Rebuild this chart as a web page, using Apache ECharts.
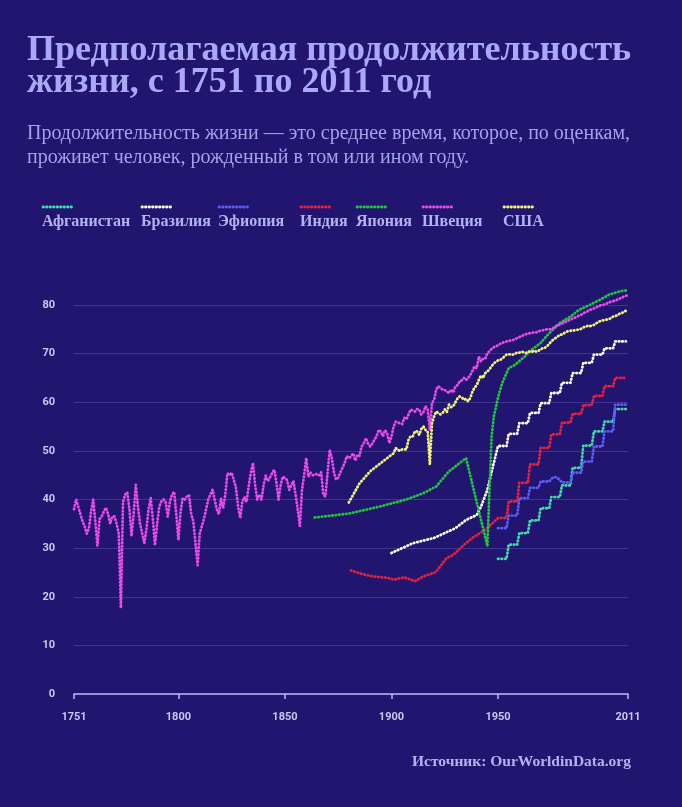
<!DOCTYPE html>
<html><head><meta charset="utf-8">
<script src="https://cdn.jsdelivr.net/npm/echarts@6/dist/echarts.min.js"></script>
<style>html,body{margin:0;padding:0;background:#211570;}#c{width:682px;height:807px;}</style>
</head><body><div id="c"></div>
<script>
// ---------- DATA ----------
const countries = ['Афганистан','Бразилия','Эфиопия','Индия','Япония','Швеция','США'];
const colors = ['#3fdca8','#ffffff','#5d5cf2','#e3223f','#1fc43f','#e64ce8','#f2f27a'];

const xTickLabels = [1751, 1800, 1850, 1900, 1950, 2011];

// Sweden, annual from 1751
const swedenStart = 1751;
const swedenValues = [
 38.0,40.0,38.5,37.0,35.5,34.5,33.0,34.0,37.5,40.0,
 35.5,30.5,36.0,36.5,37.5,38.3,37.0,35.0,36.5,36.5,
 35.0,33.0,17.7,39.5,41.0,41.5,38.0,32.5,37.0,43.0,
 38.5,35.0,33.0,31.0,34.0,38.0,40.3,36.0,30.6,35.0,
 38.5,39.6,40.0,39.5,36.5,39.5,41.0,41.6,37.0,31.7,
 37.5,40.3,40.0,40.6,40.9,37.0,35.5,31.0,26.5,33.0,
 34.5,36.0,38.0,40.0,41.0,42.0,40.0,38.0,37.0,40.2,
 38.2,41.0,45.4,45.0,45.5,44.0,42.5,38.5,36.2,39.5,
 40.5,39.5,42.8,45.5,47.5,43.0,40.0,41.0,40.0,43.0,
 44.9,43.8,44.5,45.5,46.1,43.5,40.0,43.0,44.7,44.4,
 44.0,42.0,43.0,43.8,41.0,38.0,34.5,42.0,45.0,48.5,
 44.7,45.5,45.0,45.0,45.3,45.0,45.6,41.0,40.6,45.5,
 50.2,48.5,45.6,44.1,44.5,45.6,46.5,47.5,48.9,48.5,
 48.8,49.5,48.0,49.2,49.0,50.9,51.5,52.6,51.5,50.9,
 51.5,52.3,53.0,54.3,54.0,53.0,54.3,53.5,51.6,53.0,
 55.0,56.0,55.8,55.7,55.5,56.8,56.5,57.5,58.5,58.3,
 58.1,58.6,58.5,57.5,58.0,59.2,58.5,54.3,59.8,60.5,
 62.6,63.3,62.9,62.6,62.5,62.2,61.9,62.6,62.0,63.3,
 63.5,64.3,64.5,65.0,64.6,65.0,65.6,66.5,67.4,67.0,
 69.4,68.4,69.0,69.0,70.1,70.5,71.0,71.3,71.5,71.7,
 72.0,72.2,72.4,72.5,72.6,72.7,72.8,73.0,73.2,73.4,
 73.6,73.8,74.0,74.1,74.2,74.3,74.3,74.4,74.6,74.7,
 74.8,74.9,75.0,75.0,75.0,75.3,75.6,75.8,76.0,76.2,
 76.4,76.6,76.8,77.0,77.2,77.4,77.6,77.8,78.0,78.3,
 78.5,78.7,79.0,79.1,79.3,79.5,79.7,79.9,80.0,80.1,
 80.3,80.5,80.7,80.8,80.9,81.1,81.3,81.5,81.7,81.9,
 82.0
];

// USA
const usaEarlyYears = [1880, 1885, 1890, 1895, 1900];
const usaEarlyValues = [39.4, 43.3, 45.8, 47.5, 49.2];
const usaAnnualStart = 1901;
const usaAnnualValues = [
 49.5,50.6,50.2,50.0,50.3,50.3,50.3,52.3,53.0,53.0,
 54.0,54.0,53.3,54.5,55.0,54.3,54.0,47.2,55.7,57.1,
 58.1,57.8,57.5,57.8,58.5,58.0,59.5,59.0,59.2,60.0,
 60.8,61.2,61.0,60.5,60.7,60.2,60.9,62.2,63.0,63.5,
 64.6,65.5,65.0,66.0,66.3,66.8,67.4,68.0,68.3,68.6,
 68.7,69.0,69.4,69.8,69.8,69.9,69.8,70.0,70.2,70.2,
 70.4,70.3,70.1,70.4,70.4,70.4,70.6,70.4,70.6,70.9,
 71.1,71.2,71.5,72.0,72.5,72.9,73.2,73.5,73.9,73.9,
 74.2,74.5,74.6,74.7,74.7,74.8,74.9,74.9,75.1,75.4,
 75.5,75.7,75.6,75.8,75.9,76.2,76.5,76.7,76.8,76.9,
 77.0,77.1,77.3,77.6,77.7,77.9,78.2,78.3,78.6,78.8,
 78.9
];

// Japan
const japanYears = [1864,1880,1895,1907,1915,1921,1927,1935,1945,1946,1947,1948,1949,1950,1951,1952,1955,1958,1962,1965,1970,1974,1979,1984,1988,1993,1998,2002,2007,2010,2011];
const japanValues = [36.3,37.1,38.6,40.0,41.3,42.7,45.8,48.5,30.4,42.0,53.0,57.0,59.0,61.0,62.5,64.0,67.0,67.7,69.2,70.5,72.2,74.2,76.3,77.6,79.0,80.0,81.1,82.1,82.8,83.0,82.7];

// India
const indiaEarlyYears = [1881,1886,1891,1898,1901,1906,1911,1915,1920,1921,1924,1926,1929,1934,1938,1945,1949];
const indiaEarlyValues = [25.4,24.7,24.2,23.9,23.5,24.0,23.2,24.2,24.9,25.2,26.9,28.0,28.6,30.7,32.1,34.1,35.8];

// Brazil
const brazilEarlyYears = [1900,1910,1920,1930,1935,1940,1942,1945,1948];
const brazilEarlyValues = [29.0,31.0,32.1,34.1,35.8,36.8,38.5,42.0,47.5];

// Annual values 1950-2010 (five-year estimates)
const annualStart = 1950;
const afghanistanAnnual = [
 27.8,27.8,27.8,27.8,27.8, 30.7,30.7,30.7,30.7,30.7, 33.1,33.1,33.1,33.1,33.1,
 35.7,35.7,35.7,35.7,35.7, 38.2,38.2,38.2,38.2,38.2, 40.5,40.5,40.5,40.5,40.5,
 42.9,42.9,42.9,42.9,42.9, 46.5,46.5,46.5,46.5,46.5, 51.1,51.1,51.1,51.1,51.1,
 54.0,54.0,54.0,54.0,54.0, 56.0,56.0,56.0,56.0,56.0, 58.6,58.6,58.6,58.6,58.6,58.6
];
const brazilAnnual = [
 51.0,51.0,51.0,51.0,51.0, 53.5,53.5,53.5,53.5,53.5, 55.7,55.7,55.7,55.7,55.7,
 57.8,57.8,57.8,57.8,57.8, 59.8,59.8,59.8,59.8,59.8, 61.9,61.9,61.9,61.9,61.9,
 64.0,64.0,64.0,64.0,64.0, 66.0,66.0,66.0,66.0,66.0, 68.1,68.1,68.1,68.1,68.1,
 69.8,69.8,69.8,69.8,69.8, 71.1,71.1,71.1,71.1,71.1, 72.5,72.5,72.5,72.5,72.5,72.5
];
const ethiopiaAnnual = [
 34.1,34.1,34.1,34.1,34.1, 36.7,36.7,36.7,36.7,36.7, 40.3,40.3,40.3,40.3,40.3,
 42.4,42.4,42.4,42.4,42.4, 43.7,43.7,43.7,43.7,43.7, 44.2,44.6,44.6,44.4,44.0,
 43.5,43.5,43.5,43.5,43.5, 45.5,45.5,45.5,45.5,45.5, 47.8,47.8,47.8,47.8,47.8,
 50.9,50.9,50.9,50.9,50.9, 54.0,54.0,54.0,54.0,54.0, 59.5,59.5,59.5,59.5,59.5,59.5
];
const indiaAnnual = [
 36.2,36.2,36.2,36.2,36.2, 39.6,39.6,39.6,39.6,39.6, 43.4,43.4,43.4,43.4,43.4,
 47.2,47.2,47.2,47.2,47.2, 50.6,50.6,50.6,50.6,50.6, 53.4,53.4,53.4,53.4,53.4,
 55.8,55.8,55.8,55.8,55.8, 57.6,57.6,57.6,57.6,57.6, 59.4,59.4,59.4,59.4,59.4,
 61.3,61.3,61.3,61.3,61.3, 63.3,63.3,63.3,63.3,63.3, 65.0,65.0,65.0,65.0,65.0,65.0
];

// ---------- BUILD ----------
const pairs = (years, vals) => vals.map((v, i) => [years[i], v]);
const annual = (start, vals) => vals.map((v, i) => [start + i, v]);

const seriesData = [
  annual(annualStart, afghanistanAnnual),
  pairs(brazilEarlyYears, brazilEarlyValues).concat(annual(annualStart, brazilAnnual)),
  annual(annualStart, ethiopiaAnnual),
  pairs(indiaEarlyYears, indiaEarlyValues).concat(annual(annualStart, indiaAnnual)),
  pairs(japanYears, japanValues),
  annual(swedenStart, swedenValues),
  pairs(usaEarlyYears, usaEarlyValues).concat(annual(usaAnnualStart, usaAnnualValues))
];

const DOT = [0.5, 3];
const serif = "'Liberation Serif', 'Times New Roman', serif";
const sans = "Roboto, 'Liberation Sans', sans-serif";
const axisColor = '#b9b9f0';
const labelColor = '#c9c9f2';

const legendX = [42, 141, 218, 300, 356, 422, 503];
const graphics = [];
countries.forEach((name, i) => {
  graphics.push({
    type: 'line', silent: true,
    shape: { x1: legendX[i] + 1, y1: 207, x2: legendX[i] + 31, y2: 207 },
    style: { stroke: colors[i], lineWidth: 2.8, lineDash: DOT, lineCap: 'round' }
  });
  graphics.push({
    type: 'text', x: legendX[i], y: 222,
    style: { text: name, fill: '#b3b3f2', fontSize: 16, fontWeight: 'bold', fontFamily: serif, verticalAlign: 'middle', align: 'left' }
  });
});
graphics.push({
  type: 'text', x: 631, y: 762,
  style: { text: 'Источник: OurWorldinData.org', fill: '#b3b3f2', fontSize: 15.5, fontWeight: 'bold', fontFamily: serif, verticalAlign: 'middle', align: 'right' }
});

const chart = echarts.init(document.getElementById('c'), null, { renderer: 'canvas' });
chart.setOption({
  animation: false,
  backgroundColor: '#211570',
  title: [
    {
      left: 27, top: 35, padding: 0,
      text: 'Предполагаемая продолжительность\nжизни, с 1751 по 2011 год',
      textStyle: { color: '#a9a9f7', fontSize: 36, fontWeight: 'bold', fontFamily: serif, lineHeight: 32 }
    },
    {
      left: 27, top: 122, padding: 0,
      text: 'Продолжительность жизни — это среднее время, которое, по оценкам,\nпроживет человек, рожденный в том или ином году.',
      textStyle: { color: '#a3a3ea', fontSize: 20, fontWeight: 'normal', fontFamily: serif, lineHeight: 24 }
    }
  ],
  grid: { left: 74, right: 54, top: 305, bottom: 113, containLabel: false, outerBoundsMode: 'none' },
  xAxis: {
    type: 'value', min: 1751, max: 2011,
    axisLine: { show: true, lineStyle: { color: axisColor, width: 1.5 } },
    axisTick: { show: true, customValues: xTickLabels, length: 5, lineStyle: { color: axisColor, width: 1.5 } },
    axisLabel: { customValues: xTickLabels, color: labelColor, fontWeight: 'bold', fontSize: 11, fontFamily: sans, margin: 18, formatter: v => String(v) },
    splitLine: { show: false }
  },
  yAxis: {
    type: 'value', min: 0, max: 80, interval: 10,
    axisLine: { show: false }, axisTick: { show: false },
    axisLabel: { color: labelColor, fontWeight: 'bold', fontSize: 11, fontFamily: sans, margin: 19 },
    splitLine: { lineStyle: { color: '#3d3591', width: 1 } }
  },
  graphic: graphics,
  series: countries.map((name, i) => ({
    name, type: 'line', data: seriesData[i], showSymbol: false, clip: false, smooth: false,
    lineStyle: { color: colors[i], width: 2.8, type: DOT, cap: 'round', join: 'round' },
    emphasis: { disabled: true }
  }))
});
</script></body></html>
